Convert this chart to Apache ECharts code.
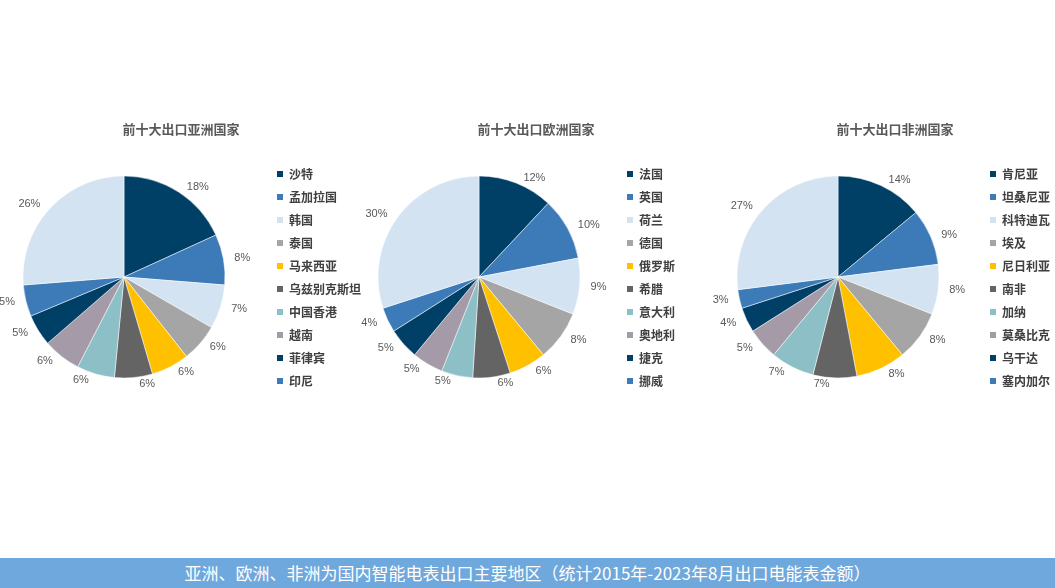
<!DOCTYPE html>
<html>
<head>
<meta charset="utf-8">
<script src="https://cdn.jsdelivr.net/npm/echarts@6/dist/echarts.min.js"></script>
<style>
body{margin:0;background:#fff;}
#main{width:1055px;height:558px;}
#foot{position:absolute;left:0;top:558px;width:1055px;height:30px;background:#6fa8dc;color:#fff;
 font-family:"Noto Sans CJK SC";font-size:17px;line-height:30px;text-align:center;}
</style>
</head>
<body>
<div id="main"></div>
<div id="foot">亚洲、欧洲、非洲为国内智能电表出口主要地区（统计2015年-2023年8月出口电能表金额）</div>
<script>
var asiaNames = ['沙特','孟加拉国','韩国','泰国','马来西亚','乌兹别克斯坦','中国香港','越南','菲律宾','印尼'];
var asiaVals = [18,8,7,6,6,6,6,6,5,5,26];
var euNames = ['法国','英国','荷兰','德国','俄罗斯','希腊','意大利','奥地利','捷克','挪威'];
var euVals = [12,10,9,8,6,6,5,5,5,4,30];
var afNames = ['肯尼亚','坦桑尼亚','科特迪瓦','埃及','尼日利亚','南非','加纳','莫桑比克','乌干达','塞内加尔'];
var afVals = [14,9,8,8,8,7,7,5,4,3,27];
var titles = ['前十大出口亚洲国家','前十大出口欧洲国家','前十大出口非洲国家'];
var colors = ['#003f66','#3d7ab8','#d3e3f1','#a5a5a5','#ffc000','#646464','#8cbfc6','#a59aa7','#003f66','#3d7ab8','#d3e3f1'];
var centersX = [124,479,838];
var legendX = [270,620,983];
var font = '"Noto Sans CJK SC"';

function makeData(names, vals, tag) {
	var out = [];
	for (var i = 0; i < vals.length; i++) {
		out.push({name: i < names.length ? names[i] : '其他' + tag, value: vals[i], itemStyle: {color: colors[i]}});
	}
	return out;
}

var groups = [[asiaNames, asiaVals], [euNames, euVals], [afNames, afVals]];
var series = [], legends = [], titleArr = [];
groups.forEach(function(g, k) {
	titleArr.push({text: titles[k], left: centersX[k] + 52, top: 118, textAlign: 'center',
		textStyle: {fontFamily: font, fontSize: 13, fontWeight: 'bold', color: '#595959'}});
	legends.push({data: g[0], orient: 'vertical', left: legendX[k], top: 163, itemGap: 11,
		itemWidth: 8, itemHeight: 8, icon: 'rect',
		textStyle: {fontFamily: font, fontSize: 12, fontWeight: 'bold', color: '#404040'}});
	series.push({type: 'pie', center: [centersX[k], 277], radius: 101, startAngle: 90,
		data: makeData(g[0], g[1], k), silent: true, avoidLabelOverlap: false,
		itemStyle: {borderColor: '#fff', borderWidth: 0.5},
		label: {show: true, position: 'outside', formatter: '{c}%', fontFamily: 'Arial', fontSize: 11, color: '#595959'},
		labelLine: {show: false, length: 6, length2: 0},
		labelLayout: {hideOverlap: false}});
});

var chart = echarts.init(document.getElementById('main'));
chart.setOption({animation: false, title: titleArr, legend: legends, series: series});
</script>
</body>
</html>
